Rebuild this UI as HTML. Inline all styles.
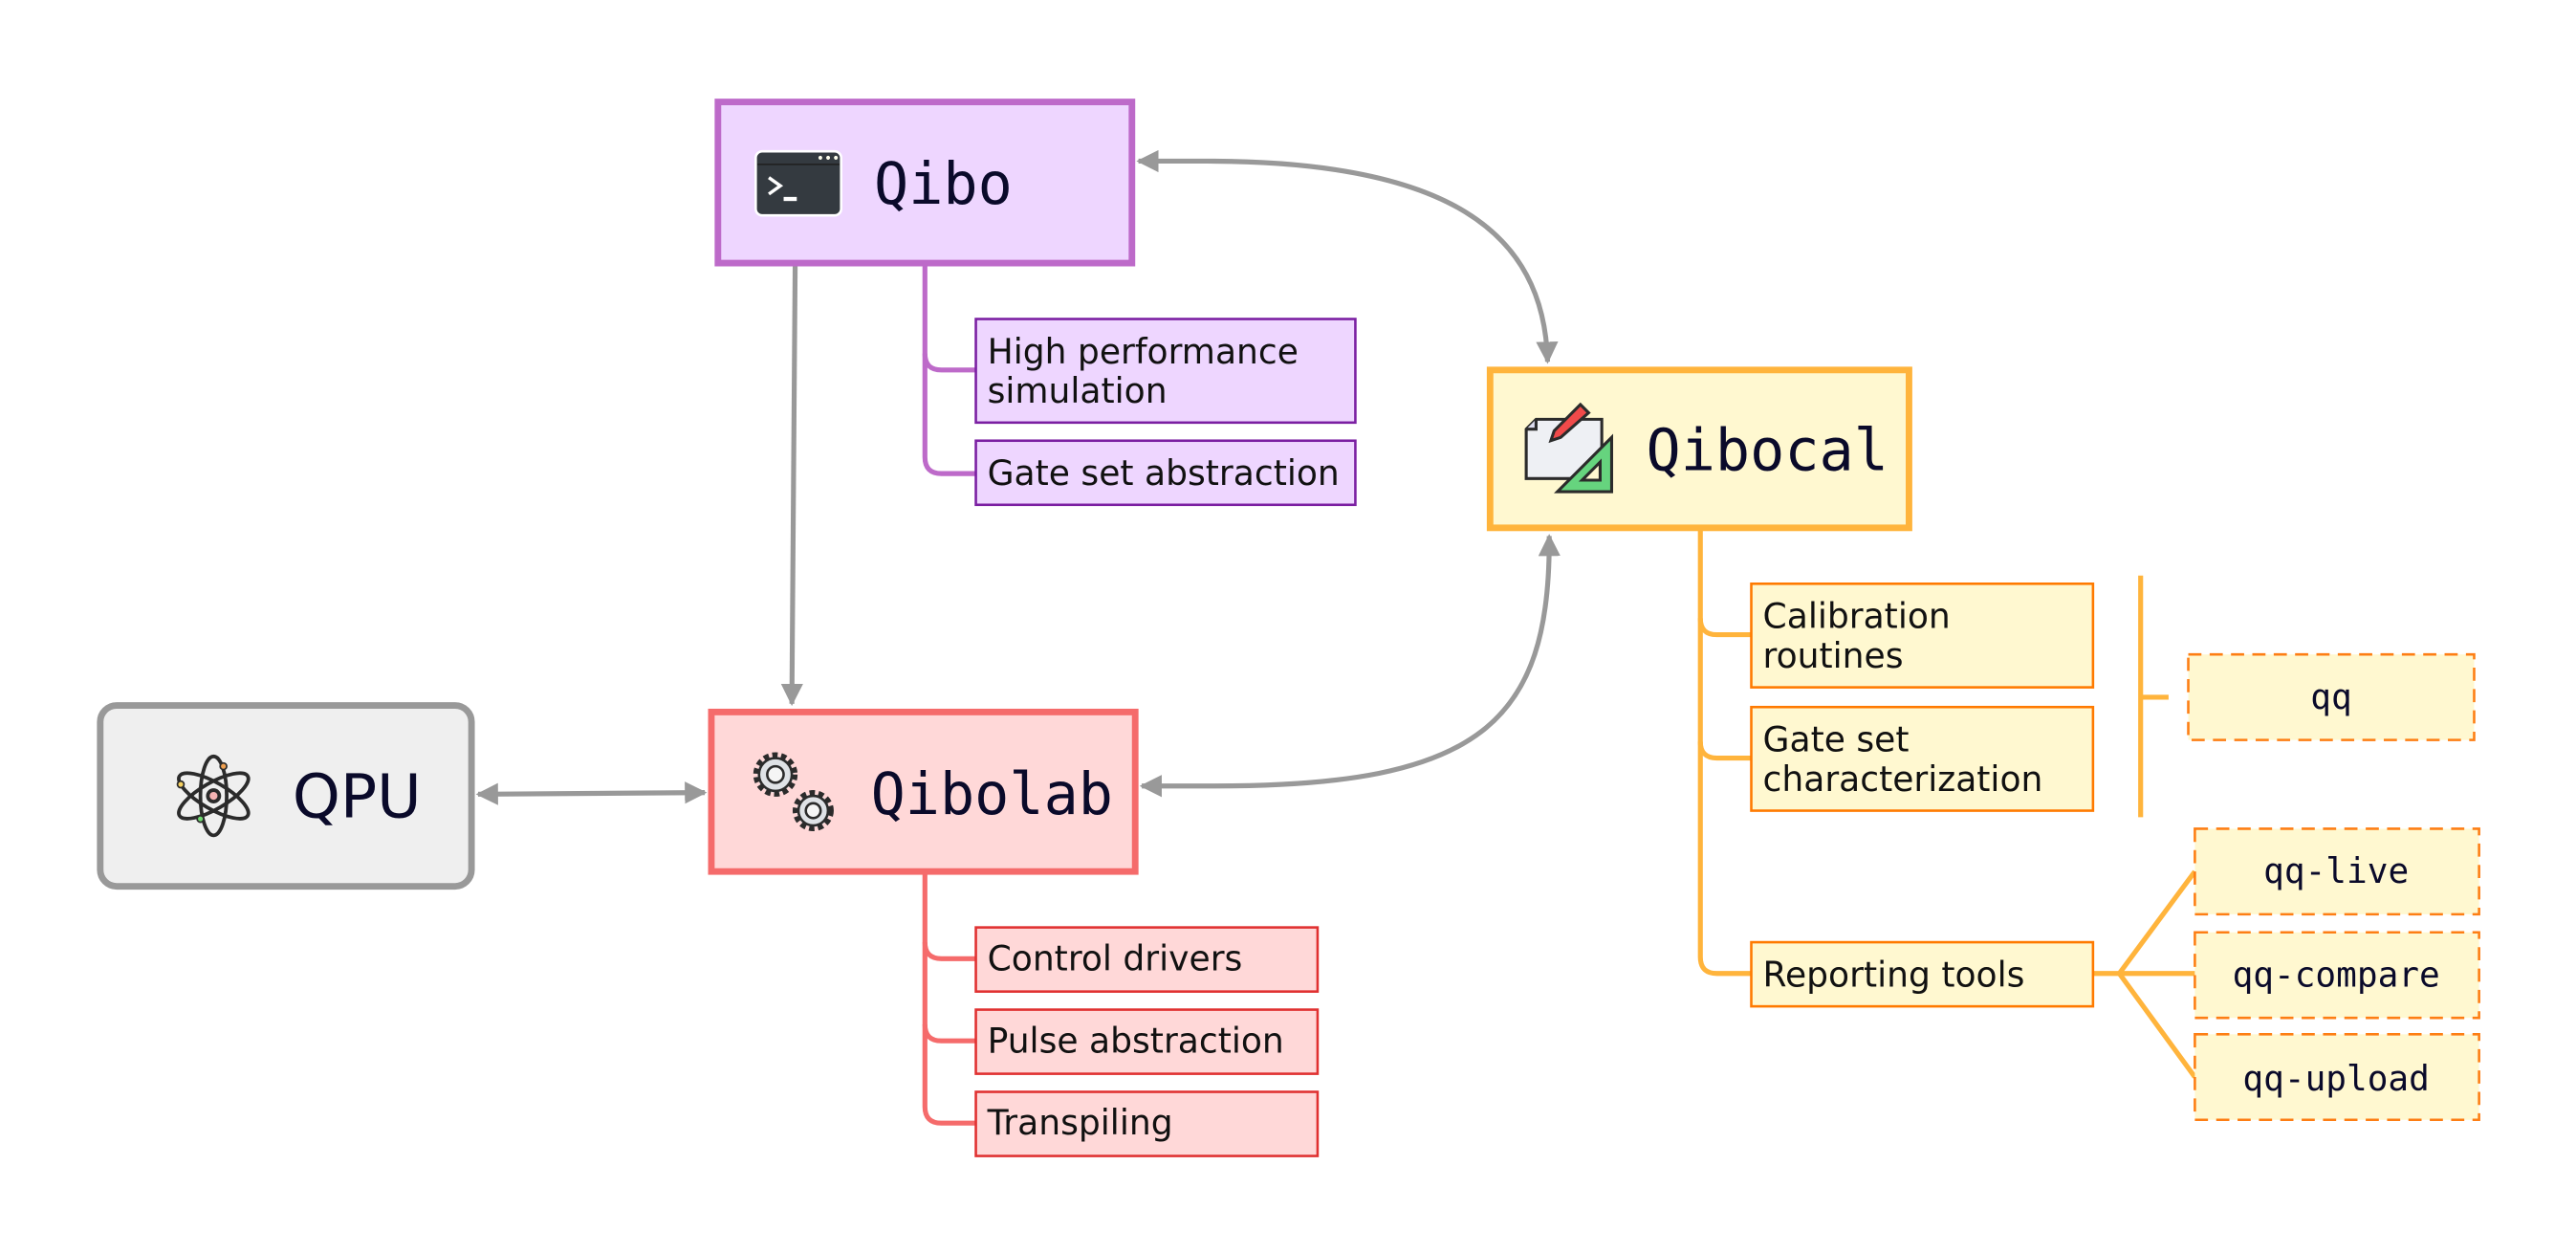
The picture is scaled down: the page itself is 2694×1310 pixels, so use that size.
<!DOCTYPE html>
<html><head><meta charset="utf-8"><style>
html,body{margin:0;padding:0;background:#fff;}
svg{display:block;}
.t{font-family:"DejaVu Sans","Liberation Sans",sans-serif;font-size:21px;fill:#111;}
.m{font-family:"DejaVu Sans Mono","Liberation Mono",monospace;fill:#0a0a2a;}
</style></head><body>
<svg width="2694" height="1310" viewBox="0 0 1568 762" preserveAspectRatio="none" xmlns="http://www.w3.org/2000/svg">
<defs>
<marker id="ah" viewBox="0 0 10 10" refX="9" refY="5" markerWidth="4.5" markerHeight="4.5" orient="auto-start-reverse" markerUnits="strokeWidth">
<path d="M0,0 L10,5 L0,10 z" fill="#999"/></marker>
</defs>
<rect width="1568" height="762" fill="#fff"/>

<g stroke="#999" stroke-width="3" fill="none">
<path d="M484,162 L482,428" marker-end="url(#ah)"/>
<path d="M291,483 L429,482" marker-start="url(#ah)" marker-end="url(#ah)"/>
<path d="M693,98 L735,98 C880,98 940,140 942,220" marker-start="url(#ah)" marker-end="url(#ah)"/>
<path d="M695,478 L740,478 C900,478 944,440 943,326" marker-start="url(#ah)" marker-end="url(#ah)"/>
</g>

<g stroke="#bd6ac9" stroke-width="3" fill="none">
<path d="M563,160 L563,215 Q563,225 573,225 L594,225"/>
<path d="M563,215 L563,278 Q563,288 573,288 L594,288"/>
</g>
<g stroke="#f56b6b" stroke-width="3" fill="none">
<path d="M563,530 L563,573 Q563,583 573,583 L594,583"/>
<path d="M563,573 L563,623 Q563,633 573,633 L594,633"/>
<path d="M563,623 L563,673 Q563,683 573,683 L594,683"/>
</g>
<g stroke="#ffb43c" stroke-width="3" fill="none">
<path d="M1035,322 L1035,376 Q1035,386 1045,386 L1066,386"/>
<path d="M1035,376 L1035,451 Q1035,461 1045,461 L1066,461"/>
<path d="M1035,451 L1035,582 Q1035,592 1045,592 L1066,592"/>
<path d="M1303,350 L1303,497"/>
<path d="M1303,424 L1320,424"/>
<path d="M1274,592 L1336,592"/>
<path d="M1290,592 L1336,530"/>
<path d="M1290,592 L1336,655"/>
</g>

<rect x="437" y="62" width="252" height="98" fill="#eed6ff" stroke="#bd6ac9" stroke-width="4"/>
<rect x="460" y="92" width="52" height="39" rx="4" fill="#343a40" stroke="#fff" stroke-width="1.5"/>
<line x1="461" y1="100" x2="511" y2="100" stroke="#222" stroke-width="1"/>
<text x="497" y="99" font-size="8" fill="#ffe" font-family="DejaVu Sans">•••</text>
<path d="M468,108 L475,113 L468,118" stroke="#fff" stroke-width="2" fill="none"/>
<line x1="477" y1="121" x2="485" y2="121" stroke="#fff" stroke-width="2.5"/>
<text class="m" x="532" y="124" font-size="35">Qibo</text>

<rect x="594" y="194" width="231" height="63" fill="#eed6ff" stroke="#7b1fa2" stroke-width="1.5"/>
<text class="t" x="601" y="221">High performance</text>
<text class="t" x="601" y="245">simulation</text>
<rect x="594" y="268" width="231" height="39" fill="#eed6ff" stroke="#7b1fa2" stroke-width="1.5"/>
<text class="t" x="601" y="295">Gate set abstraction</text>

<rect x="61" y="429" width="226" height="110" rx="10" fill="#efefef" stroke="#999" stroke-width="4"/>
<g transform="translate(130,484)" stroke="#2b2b2b" stroke-width="2.2" fill="none">
<ellipse rx="8" ry="24"/>
<ellipse rx="8" ry="24" transform="rotate(60)"/>
<ellipse rx="8" ry="24" transform="rotate(-60)"/>
<circle r="3.5" fill="#f5b4b4"/>
<circle cx="6" cy="-18" r="2" fill="#f0a050" stroke-width="1"/>
<circle cx="-20" cy="-7" r="2" fill="#f5d060" stroke-width="1"/>
<circle cx="-8" cy="14" r="2" fill="#6fd870" stroke-width="1"/>
</g>
<text x="178" y="497" font-size="37" fill="#0a0a2a" font-family="DejaVu Sans,Liberation Sans,sans-serif">QPU</text>

<rect x="433" y="433" width="258" height="97" fill="#ffd8d8" stroke="#f56b6b" stroke-width="4"/>
<g stroke="#2b2b2b" stroke-width="1.5" fill="#dfe2e6">
<circle cx="472" cy="471" r="11" stroke-dasharray="3 2" stroke-width="5"/>
<circle cx="472" cy="471" r="10"/><circle cx="472" cy="471" r="5" fill="#f5f5f5"/>
<circle cx="495" cy="493" r="10" stroke-dasharray="3 2" stroke-width="5"/>
<circle cx="495" cy="493" r="9"/><circle cx="495" cy="493" r="4.5" fill="#f5f5f5"/>
</g>
<text class="m" x="530" y="495" font-size="35">Qibolab</text>

<rect x="594" y="564" width="208" height="39" fill="#ffd8d8" stroke="#e03131" stroke-width="1.5"/>
<text class="t" x="601" y="590">Control drivers</text>
<rect x="594" y="614" width="208" height="39" fill="#ffd8d8" stroke="#e03131" stroke-width="1.5"/>
<text class="t" x="601" y="640">Pulse abstraction</text>
<rect x="594" y="664" width="208" height="39" fill="#ffd8d8" stroke="#e03131" stroke-width="1.5"/>
<text class="t" x="601" y="690">Transpiling</text>

<rect x="907" y="225" width="255" height="96" fill="#fff8d0" stroke="#ffb43c" stroke-width="4"/>
<g stroke="#2b2b2b" stroke-width="1.8">
<path d="M935,255 L975,255 L975,291 L929,291 L929,261 Z" fill="#eef0f4"/>
<path d="M929,261 L935,261 L935,255" fill="#dde" />
<path d="M981,266 L981,299 L948,299 Z" fill="#66d47e"/>
<path d="M974,281 L974,292 L963,292 Z" fill="#fff8d0"/>
<path d="M962,246 L967,251 L950,266 L944,268 L946,262 Z" fill="#f04a4a"/>
</g>
<text class="m" x="1002" y="286" font-size="35">Qibocal</text>

<rect x="1066" y="355" width="208" height="63" fill="#fff8d0" stroke="#ff7a00" stroke-width="1.5"/>
<text class="t" x="1073" y="382">Calibration</text>
<text class="t" x="1073" y="406">routines</text>
<rect x="1066" y="430" width="208" height="63" fill="#fff8d0" stroke="#ff7a00" stroke-width="1.5"/>
<text class="t" x="1073" y="457">Gate set</text>
<text class="t" x="1073" y="481">characterization</text>
<rect x="1066" y="573" width="208" height="39" fill="#fff8d0" stroke="#ff7a00" stroke-width="1.5"/>
<text class="t" x="1073" y="600">Reporting tools</text>

<g fill="#fff8d0" stroke="#fd7e14" stroke-width="1.5" stroke-dasharray="8 5">
<rect x="1332" y="398" width="174" height="52"/>
<rect x="1336" y="504" width="173" height="52"/>
<rect x="1336" y="567" width="173" height="52"/>
<rect x="1336" y="629" width="173" height="52"/>
</g>
<g class="m" font-size="21" text-anchor="middle">
<text x="1419" y="431">qq</text>
<text x="1422" y="537">qq-live</text>
<text x="1422" y="600">qq-compare</text>
<text x="1422" y="663">qq-upload</text>
</g>
</svg>
</body></html>
